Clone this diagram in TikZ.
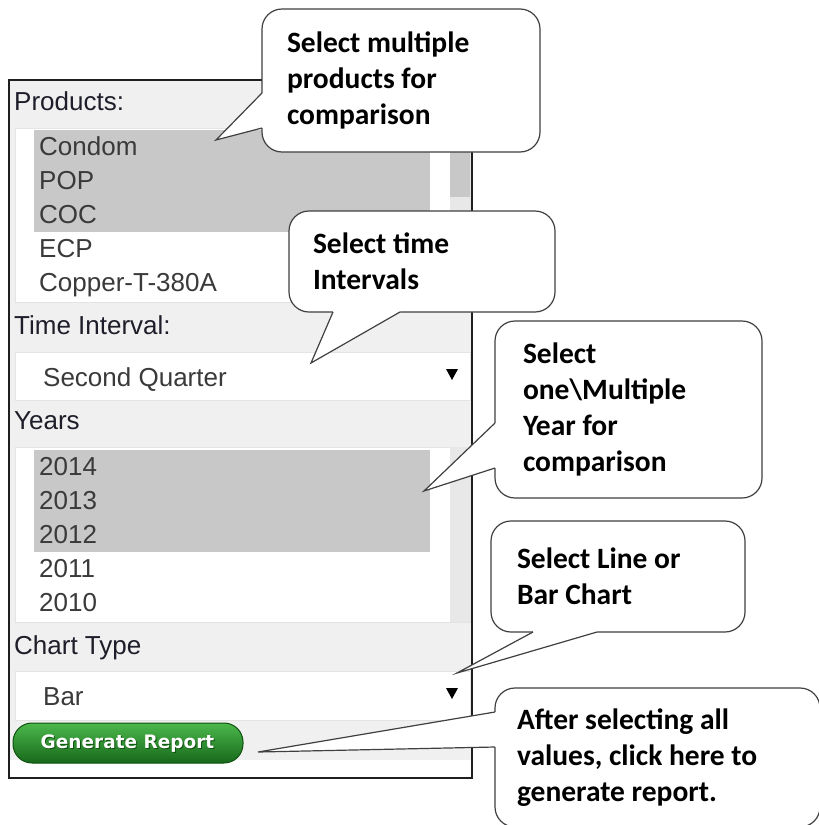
\documentclass[tikz,border=0pt]{standalone}
\usepackage{fontspec}
\setmainfont{Liberation Sans}
\newfontfamily\callf{Carlito}
\newfontfamily\btnf{DejaVu Sans}
\usetikzlibrary{calc}
\definecolor{panelbg}{HTML}{F0F0F0}
\definecolor{selgray}{HTML}{C8C8C8}
\definecolor{track}{HTML}{E8E8E8}
\definecolor{boxedge}{HTML}{E4E4E4}
\definecolor{labeltext}{HTML}{1E1E2A}
\definecolor{itemtext}{HTML}{3A3A3A}
\definecolor{calloutedge}{HTML}{404040}
\definecolor{btntop}{HTML}{4CB84C}
\definecolor{btnmid}{HTML}{2A962A}
\definecolor{btnbot}{HTML}{17681A}
\definecolor{btnedge}{HTML}{0E520E}
\tikzset{
  uilabel/.style={anchor=base west, inner sep=0pt, font=\fontsize{26}{30}\selectfont, text=labeltext},
  uiitem/.style={anchor=base west, inner sep=0pt, font=\fontsize{26}{30}\selectfont, text=itemtext},
  whitebox/.style={fill=white, draw=boxedge, line width=0.8pt},
  callout/.style={draw=calloutedge, fill=white, line width=1.2pt, rounded corners=20pt,
    align=flush left, font=\callf\bfseries\fontsize{29.5}{36}\selectfont, inner ysep=0pt,
    outer sep=0pt, text=black, anchor=north west},
  pointer/.style={draw=calloutedge, line width=1.2pt, line join=miter},
  btnfont/.style={font=\btnf\bfseries\fontsize{18.5}{20}\selectfont, inner sep=0pt},
}
\begin{document}
\begin{tikzpicture}[x=1pt,y=-1pt]
\useasboundingbox (0,0) rectangle (819,825);
\fill[white] (0,0) rectangle (819,825);
% ---------- panel ----------
\fill[panelbg] (10,81) rectangle (471,760);
\fill[white] (10,760) rectangle (471,777);
% products list
\draw[whitebox] (15,128) rectangle (470,302);
\fill[selgray] (34,130) rectangle (430,232);
\fill[selgray] (450,128.5) rectangle (469.6,197);
\fill[track] (450,197) rectangle (469.6,301.6);
% time interval dropdown
\draw[whitebox] (15,352) rectangle (470,400);
\fill (446,369) -- (458,369) -- (452,380) -- cycle;
% years list
\draw[whitebox] (15,447) rectangle (470,622);
\fill[track] (450,447.4) rectangle (469.6,621.6);
\fill[selgray] (34,450) rectangle (430,552);
% chart dropdown
\draw[whitebox] (15,671) rectangle (470,720);
\fill (446,688) -- (458,688) -- (452,699) -- cycle;
% button
\shadedraw[top color=btntop, middle color=btnmid, bottom color=btnbot, draw=btnedge,
  line width=1pt, rounded corners=19pt] (13,723) rectangle (243,763);
% border
\draw[line width=2pt, draw=black!88] (9,80) rectangle (472,778);
% texts
\node[uilabel] (lprod) at (14,110) {Products:};
\node[uiitem] (i1) at (39,155) {Condom};
\node[uiitem] (i2) at (39,189) {POP};
\node[uiitem] (i3) at (39,223) {COC};
\node[uiitem] (i4) at (39,257) {ECP};
\node[uiitem] (i5) at (39,291) {Copper-T-380A};
\node[uilabel] (ltime) at (14,334) {Time Interval:};
\node[uiitem] (tsel) at (43,386) {Second Quarter};
\node[uilabel] (lyear) at (14,429) {Years};
\node[uiitem] (y1) at (39,475) {2014};
\node[uiitem] (y2) at (39,509) {2013};
\node[uiitem] (y3) at (39,543) {2012};
\node[uiitem] (y4) at (39,577) {2011};
\node[uiitem] (y5) at (39,611) {2010};
\node[uilabel] (lchart) at (14,654) {Chart Type};
\node[uiitem] (csel) at (43,705) {Bar};
\node[btnfont, text=btnedge] (btnsh) at (128.5,744.6) {Generate Report};
\node[btnfont, text=white] (btn) at (127.5,743.3) {Generate Report};
% ---------- callouts ----------
\node[callout, minimum width=278, text width=228, inner xsep=25, minimum height=143] (c1) at (262,9)
  {Select multiple\\products for\\comparison};
\node[callout, minimum width=266, text width=218, inner xsep=24, minimum height=101] (c2) at (289,211)
  {Select time\\Intervals};
\node[callout, minimum width=267, text width=211, inner xsep=28, minimum height=177] (c3) at (495,321)
  {Select\\one\textbackslash Multiple\\Year for\\comparison};
\node[callout, minimum width=254, text width=202, inner xsep=26, minimum height=111] (c4) at (491,521)
  {Select Line or\\Bar Chart};
\node[callout, minimum width=325, text width=281, inner xsep=22, minimum height=139] (c5) at (495,688)
  {After selecting all\\values, click here to\\generate report.};
% pointers
\coordinate (t1) at (216,140);
\coordinate (a1) at ($(c1.north west)+(0,84)$);
\coordinate (b1) at ($(c1.north west)+(0,119)$);
\fill[white] (a1) -- (t1) -- (b1) -- ($(b1)+(3,0)$) -- ($(a1)+(3,0)$) -- cycle;
\draw[pointer] (a1) -- (t1) -- (b1);
\coordinate (t2) at (311,363);
\coordinate (a2) at ($(c2.south west)+(44,0)$);
\coordinate (b2) at ($(c2.south west)+(111,0)$);
\fill[white] (a2) -- (t2) -- (b2) -- ($(b2)+(0,-3)$) -- ($(a2)+(0,-3)$) -- cycle;
\draw[pointer] (a2) -- (t2) -- (b2);
\coordinate (t3) at (424,491);
\coordinate (a3) at ($(c3.north west)+(0,102)$);
\coordinate (b3) at ($(c3.north west)+(0,147)$);
\fill[white] (a3) -- (t3) -- (b3) -- ($(b3)+(3,0)$) -- ($(a3)+(3,0)$) -- cycle;
\draw[pointer] (a3) -- (t3) -- (b3);
\coordinate (t4) at (457,673);
\coordinate (a4) at ($(c4.south west)+(42,0)$);
\coordinate (b4) at ($(c4.south west)+(106,0)$);
\fill[white] (a4) -- (t4) -- (b4) -- ($(b4)+(0,-3)$) -- ($(a4)+(0,-3)$) -- cycle;
\draw[pointer] (a4) -- (t4) -- (b4);
\coordinate (t5) at (258,752);
\coordinate (a5) at ($(c5.north west)+(0,24)$);
\coordinate (b5) at ($(c5.north west)+(0,59)$);
\fill[white] (a5) -- (t5) -- (b5) -- ($(b5)+(3,0)$) -- ($(a5)+(3,0)$) -- cycle;
\draw[pointer] (a5) -- (t5) -- (b5);
\end{tikzpicture}
\end{document}
